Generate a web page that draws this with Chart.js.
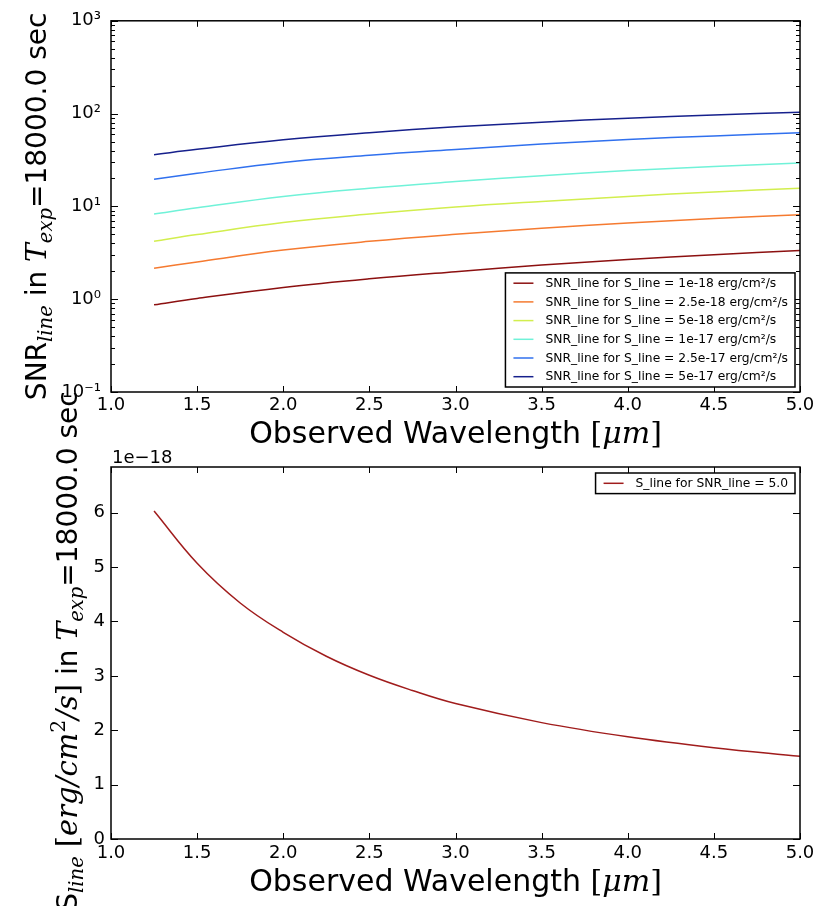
<!DOCTYPE html>
<html>
<head>
<meta charset="utf-8">
<title>Line SNR and limiting line flux vs wavelength</title>
<script src="https://cdn.jsdelivr.net/npm/chart.js@4.4.1/dist/chart.umd.min.js"></script>
<style>
  html, body { margin: 0; padding: 0; background: #fff; }
  #figure { position: relative; width: 830px; height: 906px; overflow: hidden; }
  #figure canvas { position: absolute; left: 0; top: 0; }
</style>
</head>
<body>
<div id="figure">
  <canvas id="snrChart" width="830" height="906"></canvas>
  <canvas id="fluxChart" width="830" height="906"></canvas>
</div>
<script>
// observed wavelength grid [um] for the SNR curves
const wavelengths = [1.25, 1.5, 2.0, 2.5, 3.0, 3.5, 4.0, 4.5, 5.0];

// line fluxes [erg/cm^2/s], one SNR curve each
const lineFluxes = ['1e-18', '2.5e-18', '5e-18', '1e-17', '2.5e-17', '5e-17'];
const snr_1e18   = [0.87, 1.02, 1.34, 1.66, 1.98, 2.33, 2.68, 3.01, 3.35];
const snr_2p5e18 = [2.15, 2.52, 3.38, 4.20, 5.00, 5.81, 6.62, 7.39, 8.15];
const snr_5e18   = [4.22, 4.97, 6.69, 8.28, 9.84, 11.3, 12.8, 14.3, 15.7];
const snr_1e17   = [8.27, 9.65, 12.8, 15.7, 18.5, 21.4, 24.3, 26.9, 29.4];
const snr_2p5e17 = [19.6, 22.7, 29.8, 35.6, 41.1, 46.9, 52.6, 57.4, 62.1];
const snr_5e17   = [36.1, 41.2, 52.2, 62.3, 72.0, 80.7, 89.3, 96.6, 103.5];

// limiting line flux for SNR = 5, in units of 1e-18 erg/cm^2/s
const fluxWavelengths = [1.25, 1.5, 1.75, 2.0, 2.25, 2.5, 2.75, 3.0, 3.5, 4.0, 4.5, 5.0];
const fluxSnr5 = [6.03, 5.07, 4.34, 3.80, 3.36, 3.01, 2.73, 2.49, 2.14, 1.88, 1.68, 1.52];

// axis ticks
const wavelengthTicks = [1.0, 1.5, 2.0, 2.5, 3.0, 3.5, 4.0, 4.5, 5.0];
const snrTicks = [0.1, 1, 10, 100, 1000];
const snrTickLabels = ['10⁻¹', '10⁰', '10¹', '10²', '10³'];
const fluxTicks = [0, 1, 2, 3, 4, 5, 6];

const snrSeries = [snr_1e18, snr_2p5e18, snr_5e18, snr_1e17, snr_2p5e17, snr_5e17];
const jetColors = ['#8c1010', '#f57a30', '#d2ee4e', '#70f2d8', '#3070ee', '#16208c'];

const SANS = '"DejaVu Sans", sans-serif';
const MATH = '"DejaVu Serif", serif';
const TICK_FONT = { family: SANS, size: 18 };
const LEGEND_FONT = `12.3px ${SANS}`;

const toPoints = (xs, ys) => xs.map((x, i) => ({ x, y: ys[i] }));

// rich text: runs of differently styled text laid out along one baseline
function drawRich(ctx, parts, cx, cy, vertical) {
  ctx.save();
  ctx.translate(cx, cy);
  if (vertical) ctx.rotate(-Math.PI / 2);
  ctx.textAlign = 'left';
  ctx.textBaseline = 'alphabetic';
  ctx.fillStyle = '#000';
  const widths = parts.map(p => { ctx.font = p.font; return ctx.measureText(p.text).width; });
  let x = -widths.reduce((s, w) => s + w, 0) / 2;
  parts.forEach((p, i) => {
    ctx.font = p.font;
    ctx.fillText(p.text, x, p.dy || 0);
    x += widths[i];
  });
  ctx.restore();
}

const sans = (t, px) => ({ text: t, font: `${px}px ${SANS}` });
const math = (t, px, dy) => ({ text: t, font: `italic ${px}px ${MATH}`, dy });
const roman = (t, px, dy) => ({ text: t, font: `${px}px ${MATH}`, dy });

const TITLE = 28, SUB = 19.6, XTITLE = 30, UNIT = 29;
const texpParts = [sans(' in ', TITLE), math('T', TITLE), math('exp', SUB, 6), sans('=18000.0 sec', TITLE)];
const wavelengthTitle = [sans('Observed Wavelength ', XTITLE), roman('[', XTITLE), math('μm', XTITLE), roman(']', XTITLE)];

// frame on all four sides with inward ticks, matplotlib-classic look
const axesFrame = {
  id: 'axesFrame',
  afterDatasetsDraw(chart, args, opts) {
    const { ctx, chartArea: a, scales } = chart;
    ctx.save();
    ctx.strokeStyle = '#000';
    ctx.lineWidth = 1;
    const marks = (vals, len, onX) => {
      ctx.beginPath();
      vals.forEach(v => {
        if (onX) {
          const px = Math.round(scales.x.getPixelForValue(v)) + 0.5;
          ctx.moveTo(px, a.bottom); ctx.lineTo(px, a.bottom - len);
          ctx.moveTo(px, a.top); ctx.lineTo(px, a.top + len);
        } else {
          const py = Math.round(scales.y.getPixelForValue(v)) + 0.5;
          ctx.moveTo(a.left, py); ctx.lineTo(a.left + len, py);
          ctx.moveTo(a.right, py); ctx.lineTo(a.right - len, py);
        }
      });
      ctx.stroke();
    };
    marks(scales.x.ticks.map(t => t.value), 6, true);
    marks(scales.y.ticks.map(t => t.value), 7, false);
    if (opts.logMinor) {
      const minor = [];
      for (let d = scales.y.min; d < scales.y.max * 0.999; d *= 10) {
        for (let k = 2; k <= 9; k++) minor.push(d * k);
      }
      marks(minor, 4, false);
    }
    ctx.lineWidth = 1.5;
    ctx.strokeRect(a.left, a.top, a.width, a.height);
    ctx.restore();
  }
};

// boxed legend tucked into a corner of the plot area
const boxLegend = {
  id: 'boxLegend',
  afterDraw(chart, args, opts) {
    if (!opts.corner) return;
    const { ctx, chartArea: a } = chart;
    const sets = chart.data.datasets;
    ctx.save();
    ctx.font = opts.font;
    const textW = Math.max(...sets.map(d => ctx.measureText(d.label).width));
    const w = 8 + 20 + 12 + textW + 7;
    const h = 20.6 + (sets.length - 1) * 18.7;
    const x = a.right - 5 - w;
    const y = opts.corner === 'lower right' ? a.bottom - 5 - h : a.top + 6;
    ctx.fillStyle = '#fff';
    ctx.fillRect(x, y, w, h);
    ctx.lineWidth = 1.5;
    ctx.strokeStyle = '#000';
    ctx.strokeRect(x, y, w, h);
    ctx.textBaseline = 'middle';
    sets.forEach((d, i) => {
      const cy = y + 10.3 + i * 18.7;
      ctx.strokeStyle = d.borderColor;
      ctx.beginPath();
      ctx.moveTo(x + 8, cy); ctx.lineTo(x + 28, cy);
      ctx.stroke();
      ctx.fillStyle = '#000';
      ctx.fillText(d.label, x + 40, cy + 0.5);
    });
    ctx.restore();
  }
};

// axis titles and the exponent offset text
const figureText = {
  id: 'figureText',
  afterDraw(chart, args, opts) {
    const { ctx, chartArea: a } = chart;
    if (opts.yTitle) drawRich(ctx, opts.yTitle, opts.yTitleX, (a.top + a.bottom) / 2 + (opts.yShift || 0), true);
    if (opts.xTitle) drawRich(ctx, opts.xTitle, (a.left + a.right) / 2, opts.xTitleY, false);
    if (opts.offsetText) {
      ctx.save();
      ctx.font = `${TICK_FONT.size}px ${SANS}`;
      ctx.fillStyle = '#000';
      ctx.textBaseline = 'alphabetic';
      ctx.fillText(opts.offsetText, a.left + 1, a.top - 4);
      ctx.restore();
    }
  }
};

function xScale(pad) {
  return {
    type: 'linear', min: 1, max: 5,
    afterBuildTicks: s => { s.ticks = wavelengthTicks.map(v => ({ value: v })); },
    afterFit: s => { s.height = 30; },
    ticks: { callback: v => v.toFixed(1), font: TICK_FONT, color: '#000', padding: pad, maxRotation: 0, autoSkip: false },
    grid: { display: false, drawTicks: false },
    border: { display: false }
  };
}

const common = {
  responsive: false,
  animation: false,
  events: [],
  elements: { point: { radius: 0 }, line: { borderWidth: 1.5, tension: 0.4 } }
};

new Chart(document.getElementById('snrChart'), {
  type: 'line',
  data: {
    datasets: snrSeries.map((ys, i) => ({
      label: `SNR_line for S_line = ${lineFluxes[i]} erg/cm²/s`,
      data: toPoints(wavelengths, ys),
      borderColor: jetColors[i],
      fill: false
    }))
  },
  options: {
    ...common,
    layout: { padding: { top: 20, right: 30, bottom: 484, left: 0 } },
    scales: {
      x: xScale(3),
      y: {
        type: 'logarithmic', min: 0.1, max: 1000,
        afterBuildTicks: s => { s.ticks = snrTicks.map(v => ({ value: v })); },
        afterFit: s => { s.width = 111; },
        ticks: { callback: (v, i) => snrTickLabels[i], font: TICK_FONT, color: '#000', padding: 10 },
        grid: { display: false, drawTicks: false },
        border: { display: false }
      }
    },
    plugins: {
      legend: { display: false },
      tooltip: { enabled: false },
      axesFrame: { logMinor: true },
      boxLegend: { corner: 'lower right', font: LEGEND_FONT },
      figureText: {
        yTitle: [sans('SNR', TITLE), math('line', SUB, 6), ...texpParts],
        yTitleX: 46,
        xTitle: wavelengthTitle,
        xTitleY: 443
      }
    }
  },
  plugins: [axesFrame, boxLegend, figureText]
});

new Chart(document.getElementById('fluxChart'), {
  type: 'line',
  data: {
    datasets: [{
      label: 'S_line for SNR_line = 5.0',
      data: toPoints(fluxWavelengths, fluxSnr5),
      borderColor: '#a01c1c',
      fill: false
    }]
  },
  options: {
    ...common,
    layout: { padding: { top: 467, right: 30, bottom: 37, left: 0 } },
    scales: {
      x: xScale(4),
      y: {
        type: 'linear', min: 0, max: 6.84,
        afterBuildTicks: s => { s.ticks = fluxTicks.map(v => ({ value: v })); },
        afterFit: s => { s.width = 111; },
        ticks: { callback: v => String(v), font: TICK_FONT, color: '#000', padding: 6 },
        grid: { display: false, drawTicks: false },
        border: { display: false }
      }
    },
    plugins: {
      legend: { display: false },
      tooltip: { enabled: false },
      axesFrame: {},
      boxLegend: { corner: 'upper right', font: LEGEND_FONT },
      figureText: {
        yTitle: [
          sans('S', TITLE), math('line', SUB, 6), sans(' ', TITLE),
          roman('[', UNIT), math('erg/cm', UNIT), roman('2', 20.5, -12), math('/s', UNIT), roman(']', UNIT),
          ...texpParts
        ],
        yTitleX: 77,
        yShift: -2,
        xTitle: wavelengthTitle,
        xTitleY: 891,
        offsetText: '1e−18'
      }
    }
  },
  plugins: [axesFrame, boxLegend, figureText]
});
</script>
</body>
</html>
